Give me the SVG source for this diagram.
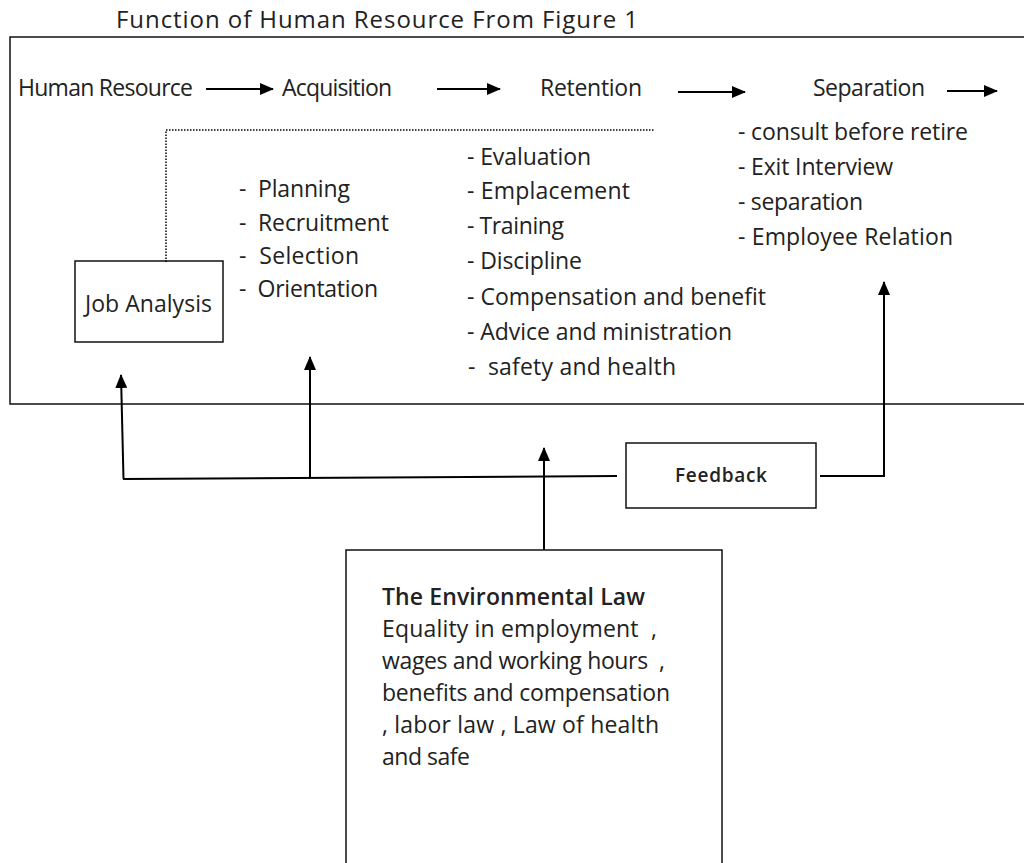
<svg xmlns="http://www.w3.org/2000/svg" width="1024" height="863" viewBox="0 0 1024 863">
<style>
text{font-family:"Open Sans","Noto Sans","Liberation Sans",sans-serif;font-size:23px;fill:#222}
.box{fill:#fff;stroke:#111;stroke-width:1.5}
.ln{fill:none;stroke:#000;stroke-width:2}
.dot{fill:none;stroke:#000;stroke-width:1.5;stroke-dasharray:1.5 1.5}
.b{font-weight:600}
</style>
<defs>
<marker id="ah" markerWidth="14" markerHeight="12" refX="13" refY="6" orient="auto" markerUnits="userSpaceOnUse">
<path d="M0,0 L14,6 L0,12 Z" fill="#000"/>
</marker>
</defs>
<rect width="1024" height="863" fill="#fff"/>
<text x="116" y="28" style="font-size:24px" textLength="522" lengthAdjust="spacing">Function of Human Resource From Figure 1</text>
<g id="main">
<rect class="box" x="10" y="37" width="1030" height="367"/>
<text x="18" y="96" textLength="175" lengthAdjust="spacing">Human Resource</text>
<text x="282" y="96" textLength="110" lengthAdjust="spacing">Acquisition</text>
<text x="540" y="96" textLength="102" lengthAdjust="spacing">Retention</text>
<text x="813" y="96" textLength="112" lengthAdjust="spacing">Separation</text>
</g>
<g id="acq-list">
<text x="239" y="197" xml:space="preserve" textLength="111" lengthAdjust="spacing">-  Planning</text>
<text x="239" y="231" xml:space="preserve" textLength="150" lengthAdjust="spacing">-  Recruitment</text>
<text x="239" y="264" xml:space="preserve" textLength="120" lengthAdjust="spacing">-  Selection</text>
<text x="239" y="297" xml:space="preserve" textLength="139" lengthAdjust="spacing">-  Orientation</text>
</g>
<g id="ret-list">
<text x="467" y="165" textLength="124" lengthAdjust="spacing">- Evaluation</text>
<text x="467" y="199" textLength="163" lengthAdjust="spacing">- Emplacement</text>
<text x="467" y="234" textLength="97" lengthAdjust="spacing">- Training</text>
<text x="467" y="269" textLength="115" lengthAdjust="spacing">- Discipline</text>
<text x="467" y="305" textLength="299" lengthAdjust="spacing">- Compensation and benefit</text>
<text x="467" y="340" textLength="265" lengthAdjust="spacing">- Advice and ministration</text>
<text x="468" y="375" xml:space="preserve" textLength="208" lengthAdjust="spacing">-  safety and health</text>
</g>
<g id="sep-list">
<text x="738" y="140" textLength="230" lengthAdjust="spacing">- consult before retire</text>
<text x="738" y="175" textLength="155" lengthAdjust="spacing">- Exit Interview</text>
<text x="738" y="210" textLength="125" lengthAdjust="spacing">- separation</text>
<text x="738" y="245" textLength="215" lengthAdjust="spacing">- Employee Relation</text>
</g>
<g id="job-analysis">
<rect class="box" x="75" y="261" width="148" height="81"/>
<text x="85" y="312" textLength="127" lengthAdjust="spacing">Job Analysis</text>
</g>
<g id="feedback">
<rect class="box" x="626" y="443" width="190" height="65"/>
<text x="675" y="482" class="b" style="font-size:19px" textLength="92" lengthAdjust="spacing">Feedback</text>
</g>
<g id="env-law">
<rect class="box" x="346" y="550" width="376" height="320"/>
<text x="382" y="605" class="b" textLength="263" lengthAdjust="spacing">The Environmental Law</text>
<text x="382" y="637" xml:space="preserve" textLength="275" lengthAdjust="spacing">Equality in employment  ,</text>
<text x="382" y="669" xml:space="preserve" textLength="283" lengthAdjust="spacing">wages and working hours  ,</text>
<text x="382" y="701" textLength="288" lengthAdjust="spacing">benefits and compensation</text>
<text x="382" y="733" textLength="277" lengthAdjust="spacing">, labor law , Law of health</text>
<text x="382" y="765" textLength="88" lengthAdjust="spacing">and safe</text>
</g>
<g id="connectors">
<line class="ln" x1="206" y1="89" x2="273" y2="89" marker-end="url(#ah)"/>
<line class="ln" x1="437" y1="89" x2="500" y2="89" marker-end="url(#ah)"/>
<line class="ln" x1="678" y1="92" x2="745" y2="92" marker-end="url(#ah)"/>
<line class="ln" x1="947" y1="91" x2="997" y2="91" marker-end="url(#ah)"/>
<polyline class="dot" points="166,262 166,130 655,130"/>
<line class="ln" x1="123" y1="479" x2="617" y2="476"/>
<line class="ln" x1="123.5" y1="479" x2="121" y2="375" marker-end="url(#ah)"/>
<line class="ln" x1="310" y1="478" x2="310" y2="357" marker-end="url(#ah)"/>
<line class="ln" x1="544" y1="550" x2="544" y2="448" marker-end="url(#ah)"/>
<polyline class="ln" points="820,476 884,476 884,282" marker-end="url(#ah)"/>
</g>
</svg>
